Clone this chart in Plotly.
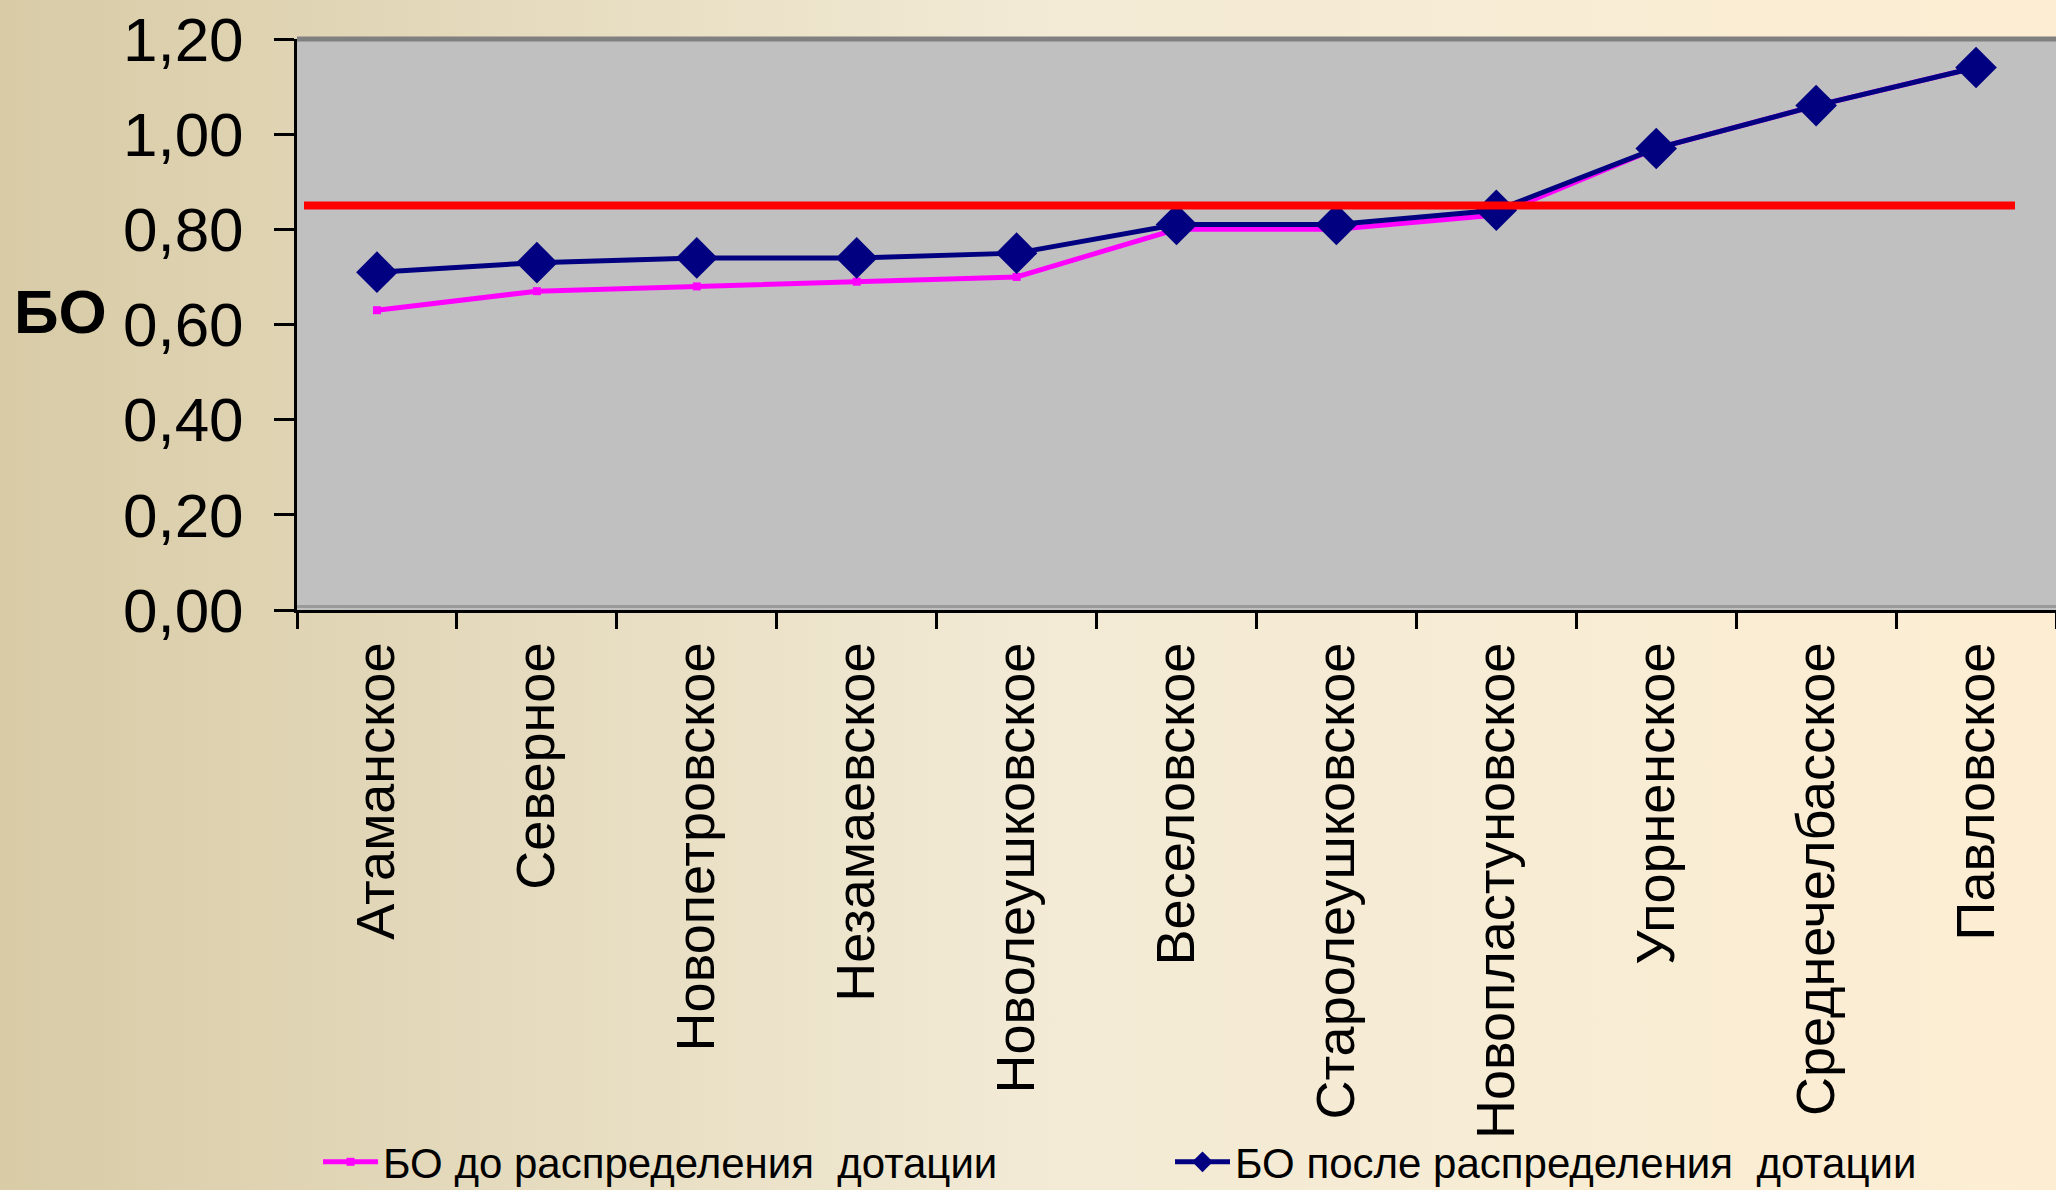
import base64
import plotly.graph_objects as go

# ---- data ----
categories = ["Атаманское", "Северное", "Новопетровское", "Незамаевское",
              "Новолеушковское", "Веселовское", "Старолеушковское",
              "Новопластуновское", "Упорненское", "Среднечелбасское", "Павловское"]
before_vals = [0.63, 0.67, 0.68, 0.69, 0.70, 0.80, 0.80, 0.83, 0.97, 1.06, 1.14]
after_vals = [0.71, 0.73, 0.74, 0.74, 0.75, 0.81, 0.81, 0.84, 0.97, 1.06, 1.14]
threshold = 0.85
y_ticks = [0.0, 0.2, 0.4, 0.6, 0.8, 1.0, 1.2]
name_before = "БО до распределения  дотации"
name_after = "БО после распределения  дотации"
y_title = "БО"

W, H = 2056, 1190
ML, MR, MT, MB = 297, 0, 39, 580
PW, PH = W - ML - MR, H - MT - MB

FONT = "Liberation Sans, Arial, sans-serif"

fig = go.Figure()
fig.add_trace(go.Scatter(
    x=categories, y=before_vals, name=name_before, mode="lines+markers",
    line=dict(color="#FF00FF", width=5),
    marker=dict(symbol="square", size=8, color="#FF00FF"),
    legend="legend",
))
fig.add_trace(go.Scatter(
    x=categories, y=after_vals, name=name_after, mode="lines+markers",
    line=dict(color="#000080", width=5),
    marker=dict(symbol="diamond", size=32, color="#000080"),
    legend="legend2",
))

# background gradient (whole figure) as an SVG image
svg = (
    '<svg xmlns="http://www.w3.org/2000/svg" width="2056" height="1190" preserveAspectRatio="none">'
    '<defs><linearGradient id="g" x1="0" y1="0" x2="1" y2="0">'
    '<stop offset="0" stop-color="#d8cba6"/>'
    '<stop offset="0.5" stop-color="#f2ead5"/>'
    '<stop offset="1" stop-color="#fdeed3"/>'
    '</linearGradient></defs>'
    '<rect x="0" y="0" width="2056" height="1190" fill="url(#g)"/></svg>'
)
src = "data:image/svg+xml;base64," + base64.b64encode(svg.encode()).decode()
fig.add_layout_image(dict(
    source=src, xref="paper", yref="paper",
    x=-ML / PW, y=1 + MT / PH, sizex=W / PW, sizey=H / PH,
    xanchor="left", yanchor="top", sizing="stretch", layer="below",
))

# plot area fill (above the background image, below traces)
fig.add_shape(type="rect", xref="x domain", yref="y domain", x0=0, x1=1, y0=0, y1=1,
              fillcolor="#C0C0C0", line=dict(width=0), layer="below")
# plot area border (top and bottom inner gray)
fig.add_shape(type="line", xref="x domain", yref="y domain", x0=0, x1=1, y0=1, y1=1,
              line=dict(color="#808080", width=5), layer="below")
fig.add_shape(type="line", xref="x domain", yref="y domain", x0=0, x1=1, y0=0.006, y1=0.006,
              line=dict(color="#9a9a9a", width=3), layer="below")
# threshold line
fig.add_shape(type="line", xref="paper", yref="y",
              x0=(304 - ML) / PW, x1=(2015 - ML) / PW, y0=threshold, y1=threshold,
              line=dict(color="#FF0000", width=8), layer="above")

fig.add_annotation(text=f"<b>{y_title}</b>", xref="paper", yref="paper",
                   x=(60 - ML) / PW, y=(610 - 311) / PH, showarrow=False,
                   font=dict(family=FONT, size=62, color="black"),
                   xanchor="center", yanchor="middle")

legend_common = dict(
    orientation="h", xanchor="left", yanchor="middle",
    y=(610 - 1162) / PH,
    font=dict(family=FONT, size=42, color="black"),
    bgcolor="rgba(0,0,0,0)", itemwidth=55,
)

fig.update_layout(
    width=W, height=H,
    margin=dict(l=ML, r=MR, t=MT, b=MB, pad=0, autoexpand=False),
    paper_bgcolor="rgba(0,0,0,0)",
    plot_bgcolor="rgba(0,0,0,0)",
    separators=", ",
    font=dict(family=FONT, color="black"),
    showlegend=True,
    legend=dict(x=(318 - ML) / PW, **legend_common),
    legend2=dict(x=(1170 - ML) / PW, **legend_common),
    xaxis=dict(
        type="category", range=[-0.5, len(categories) - 0.5],
        showline=True, linecolor="black", linewidth=3,
        ticks="outside", ticklen=16, tickwidth=3, tickcolor="black",
        tickson="boundaries", tickangle=-90,
        tickfont=dict(family=FONT, size=54, color="black"),
        showgrid=False, zeroline=False, ticklabelstandoff=8,
    ),
    yaxis=dict(
        range=[0, 1.2], tickvals=y_ticks, tickformat=".2f",
        showline=True, linecolor="black", linewidth=3,
        ticks="outside", ticklen=20, tickwidth=3, tickcolor="black",
        tickfont=dict(family=FONT, size=62, color="black"),
        showgrid=False, zeroline=False, ticklabelstandoff=18,
    ),
)

fig.write_html(
    "out.html",
    config={"displayModeBar": False},
    post_script="document.body.style.margin='0';document.body.style.overflow='hidden';",
)
